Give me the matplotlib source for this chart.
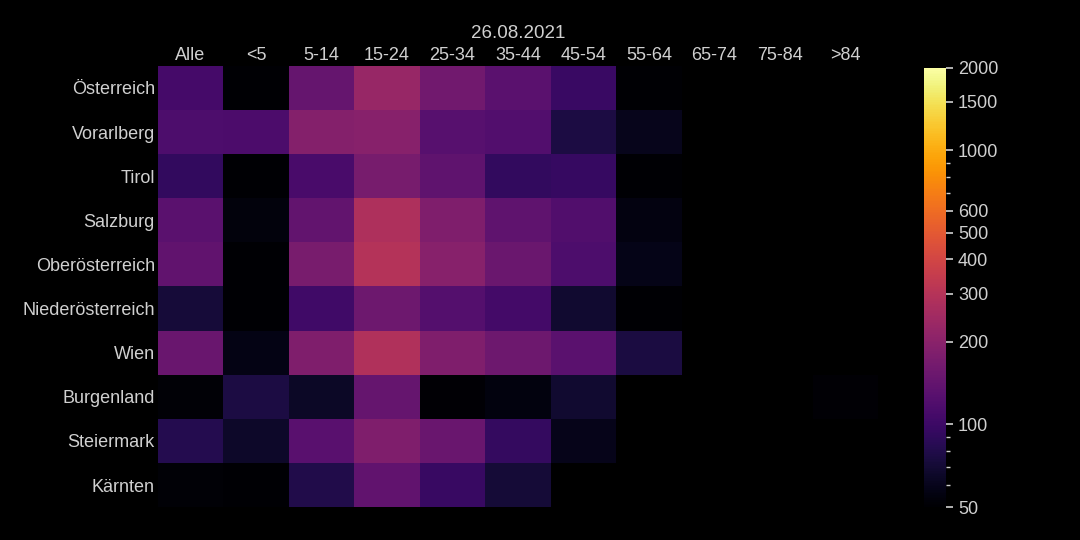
import matplotlib
matplotlib.use('Agg')
import matplotlib.pyplot as plt
from matplotlib.colors import LogNorm
from matplotlib.ticker import FixedLocator, FixedFormatter
import numpy as np

nan = np.nan

ages = ['Alle', '<5', '5-14', '15-24', '25-34', '35-44', '45-54', '55-64', '65-74', '75-84', '>84']
regions = ['Österreich', 'Vorarlberg', 'Tirol', 'Salzburg', 'Oberösterreich',
           'Niederösterreich', 'Wien', 'Burgenland', 'Steiermark', 'Kärnten']

# 7-day incidence per age group
oesterreich = [108, 48, 145, 225, 160, 130, 98, 45, nan, nan, nan]
vorarlberg = [117, 114, 190, 195, 126, 121, 77, 60, nan, nan, nan]
tirol = [92, 45, 112, 170, 136, 92, 95, 46, nan, nan, nan]
salzburg = [130, 54, 140, 280, 182, 136, 120, 56, nan, nan, nan]
oberoesterreich = [138, 45, 172, 295, 195, 150, 116, 58, nan, nan, nan]
niederoesterreich = [72, 45, 103, 155, 123, 106, 68, 45, nan, nan, nan]
wien = [148, 57, 182, 285, 182, 155, 130, 75, nan, nan, nan]
burgenland = [52, 77, 64, 145, 51, 55, 68, nan, nan, nan, 51]
steiermark = [82, 65, 128, 182, 148, 93, 59, nan, nan, nan, nan]
kaernten = [52, 45, 80, 138, 97, 71, nan, nan, nan, nan, nan]

data = np.array([oesterreich, vorarlberg, tirol, salzburg, oberoesterreich,
                 niederoesterreich, wien, burgenland, steiermark, kaernten])

txt = '#d0d0d0'
plt.rcParams['font.family'] = ['Liberation Sans', 'DejaVu Sans']

fig = plt.figure(figsize=(10.8, 5.4), dpi=100, facecolor='black')
ax = fig.add_axes([0.146, 0.061, 0.667, 0.817], facecolor='black')
cax = fig.add_axes([0.856, 0.061, 0.020, 0.814])

norm = LogNorm(vmin=50, vmax=2000, clip=True)
mesh = ax.pcolormesh(np.ma.masked_invalid(data), cmap='inferno', norm=norm)
ax.set_xlim(0, len(ages))
ax.set_ylim(len(regions), 0)

ax.xaxis.tick_top()
ax.set_xticks(np.arange(len(ages)) + 0.5)
ax.set_xticklabels(ages, fontsize=13, color=txt)
ax.set_yticks(np.arange(len(regions)) + 0.5)
ax.set_yticklabels(regions, fontsize=13, color=txt)
ax.tick_params(axis='x', length=0, pad=1)
ax.tick_params(axis='y', length=0, pad=2)
for s in ax.spines.values():
    s.set_visible(False)
ax.set_title('26.08.2021', fontsize=13.5, color=txt, pad=20)

cb = fig.colorbar(mesh, cax=cax)
cb.outline.set_visible(False)
major = [50, 100, 200, 300, 400, 500, 600, 1000, 1500, 2000]
minor = [60, 70, 80, 90, 700, 800, 900]
cax.yaxis.set_major_locator(FixedLocator(major))
cax.yaxis.set_major_formatter(FixedFormatter([str(v) for v in major]))
cax.yaxis.set_minor_locator(FixedLocator(minor))
cax.yaxis.set_minor_formatter(FixedFormatter([''] * len(minor)))
cax.tick_params(which='major', colors=txt, labelsize=13, length=5, width=1.2)
cax.tick_params(which='minor', colors=txt, length=3, width=1)

fig.savefig('out.png', dpi=100, facecolor='black')
